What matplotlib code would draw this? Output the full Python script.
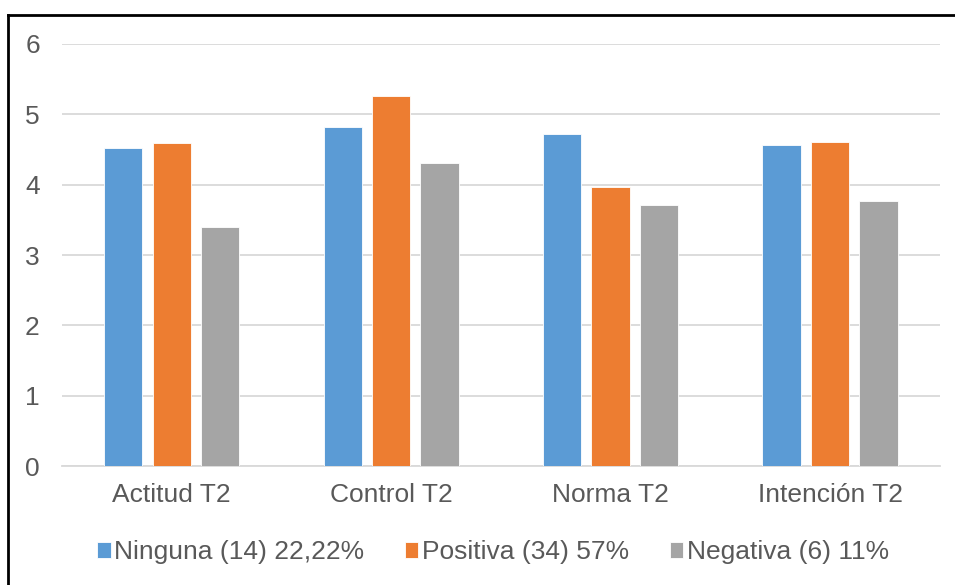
import matplotlib
matplotlib.use("Agg")
import matplotlib.pyplot as plt
from matplotlib.lines import Line2D
import numpy as np

categories = ["Actitud T2", "Control T2", "Norma T2", "Intención T2"]
series_names = ["Ninguna (14) 22,22%", "Positiva (34) 57%", "Negativa (6) 11%"]
ninguna = [4.52, 4.82, 4.72, 4.57]
positiva = [4.59, 5.26, 3.97, 4.61]
negativa = [3.40, 4.31, 3.71, 3.77]
y_ticks = [0, 1, 2, 3, 4, 5, 6]

colors = ["#5B9BD5", "#ED7D31", "#A5A5A5"]
text_color = "#595959"

plt.rcParams["font.family"] = ["Liberation Sans", "DejaVu Sans"]

fig = plt.figure(figsize=(9.55, 5.85), dpi=100)
ax = fig.add_axes([0.065, 0.2034, 0.919, 0.7214])

x = np.arange(len(categories))
width = 0.175
offset = 0.221
for i, (vals, name) in enumerate(zip([ninguna, positiva, negativa], series_names)):
    ax.bar(x + (i - 1) * offset, vals, width, color=colors[i], label=name,
           edgecolor="white", linewidth=0.6, zorder=3)

ax.set_xlim(-0.5, len(categories) - 0.5)
ax.set_ylim(0, 6)
ax.set_yticks(y_ticks)
ax.set_xticks(x)
ax.set_xticklabels(categories)
ax.yaxis.grid(True, color="#D9D9D9", linewidth=1.3, zorder=0)
ax.tick_params(axis="both", length=0, labelsize=19, colors=text_color)
ax.tick_params(axis="y", pad=16)
ax.tick_params(axis="x", pad=12)
for s in ["top", "right", "left"]:
    ax.spines[s].set_visible(False)
ax.spines["bottom"].set_color("#D9D9D9")
ax.spines["bottom"].set_linewidth(1.3)

leg = fig.legend(loc="center", bbox_to_anchor=(0.516, 0.056), ncol=3, frameon=False,
                 fontsize=19, handlelength=0.52, handleheight=0.52,
                 handletextpad=0.12, columnspacing=1.55, borderaxespad=0)
for t in leg.get_texts():
    t.set_color(text_color)

# outer frame on top and left edges
fig.add_artist(Line2D([8 / 955, 1.0], [1 - 15 / 585, 1 - 15 / 585],
                      transform=fig.transFigure, color="black", linewidth=2))
fig.add_artist(Line2D([8 / 955, 8 / 955], [0.0, 1 - 15 / 585],
                      transform=fig.transFigure, color="black", linewidth=2))

fig.savefig("out.png", dpi=100)
